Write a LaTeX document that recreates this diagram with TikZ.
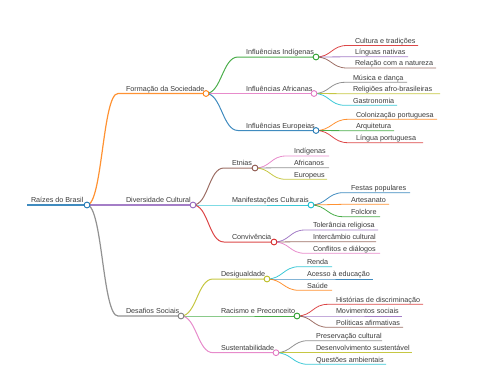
\documentclass[tikz,border=0pt]{standalone}
\usepackage{fontspec}
\setmainfont{Liberation Sans}
\definecolor{mmblue}{HTML}{1F77B4}
\definecolor{mmorange}{HTML}{FF7F0E}
\definecolor{mmgreen}{HTML}{2CA02C}
\definecolor{mmred}{HTML}{D62728}
\definecolor{mmpurple}{HTML}{9467BD}
\definecolor{mmbrown}{HTML}{8C564B}
\definecolor{mmpink}{HTML}{E377C2}
\definecolor{mmgrey}{HTML}{7F7F7F}
\definecolor{mmolive}{HTML}{BCBD22}
\definecolor{mmcyan}{HTML}{17BECF}
\definecolor{mmtextcol}{HTML}{3A3A3A}
\pgfdeclarelayer{bg}
\pgfsetlayers{bg,main}
\tikzset{
  mmtext/.style={inner sep=0pt, outer sep=0pt, text=mmtextcol, font=\fontsize{7.2}{8}\selectfont},
  mmdotstyle/.style={circle, fill=white, line width=0.9pt, minimum size=5.8pt, inner sep=0pt},
  mmline/.style={draw opacity=0.85},
}
% #1 name, #2 parent, #3 line start x, #4 line end x, #5 y, #6 colour, #7 width, #8 text
\newcommand{\mmitem}[8]{%
  \coordinate (#1-s) at (#3,#5);
  \coordinate (#1-e) at (#4,#5);
  \node[mmtext, anchor=base west] (#1-t) at (#3+8,#5-2.3) {#8};
  \begin{pgfonlayer}{bg}
    \draw[mmline, #6, line width=#7] (#2-e) to[out=0,in=180,distance=15.5pt] (#1-s) -- (#1-e);
  \end{pgfonlayer}
}
\newcommand{\mmdot}[2]{\node[mmdotstyle, draw=#2] (#1) at (#1-e) {};}
\begin{document}
\begin{tikzpicture}[x=1pt,y=-1pt]
\useasboundingbox (0,0) rectangle (480,384);
% root
\coordinate (R-s) at (27,205);
\coordinate (R-e) at (87,205);
\node[mmtext, anchor=base west] (R-t) at (31,202.7) {Raízes do Brasil};
\begin{pgfonlayer}{bg}
  \draw[mmline, mmblue, line width=1.5pt] (R-s) -- (R-e);
\end{pgfonlayer}
% level 1
\mmitem{F}{R}{118}{206}{93.5}{mmorange}{1.2pt}{Formação da Sociedade}
\mmitem{D}{R}{118}{193}{205}{mmpurple}{1.2pt}{Diversidade Cultural}
\mmitem{S}{R}{118}{181}{316}{mmgrey}{1.2pt}{Desafios Sociais}
% Formação
\mmitem{FI}{F}{238}{316}{57}{mmgreen}{1pt}{Influências Indígenas}
\mmitem{FA}{F}{238}{314}{93.5}{mmpink}{1pt}{Influências Africanas}
\mmitem{FE}{F}{238}{316}{130.5}{mmblue}{1pt}{Influências Europeias}
\mmitem{FI1}{FI}{347}{418}{45.5}{mmred}{0.8pt}{Cultura e tradições}
\mmitem{FI2}{FI}{347}{408}{56.8}{mmpurple}{0.8pt}{Línguas nativas}
\mmitem{FI3}{FI}{347}{436}{68}{mmbrown}{0.8pt}{Relação com a natureza}
\mmitem{FA1}{FA}{345}{407}{82.3}{mmgrey}{0.8pt}{Música e dança}
\mmitem{FA2}{FA}{345}{440}{93.7}{mmolive}{0.8pt}{Religiões afro-brasileiras}
\mmitem{FA3}{FA}{345}{397}{105.3}{mmcyan}{0.8pt}{Gastronomia}
\mmitem{FE1}{FE}{348}{437}{119.3}{mmorange}{0.8pt}{Colonização portuguesa}
\mmitem{FE2}{FE}{348}{394}{130.7}{mmgreen}{0.8pt}{Arquitetura}
\mmitem{FE3}{FE}{348}{423}{142.7}{mmred}{0.8pt}{Língua portuguesa}
% Diversidade
\mmitem{DE}{D}{224}{255}{168}{mmbrown}{1pt}{Etnias}
\mmitem{DM}{D}{224}{311}{205}{mmcyan}{1pt}{Manifestações Culturais}
\mmitem{DC}{D}{224}{274}{242}{mmred}{1pt}{Convivência}
\mmitem{DE1}{DE}{286}{329}{156}{mmpink}{0.8pt}{Indígenas}
\mmitem{DE2}{DE}{286}{329}{167.7}{mmgrey}{0.8pt}{Africanos}
\mmitem{DE3}{DE}{286}{327}{179.3}{mmolive}{0.8pt}{Europeus}
\mmitem{DM1}{DM}{343}{410}{192.7}{mmblue}{0.8pt}{Festas populares}
\mmitem{DM2}{DM}{343}{389}{204.3}{mmorange}{0.8pt}{Artesanato}
\mmitem{DM3}{DM}{343}{380}{216.7}{mmgreen}{0.8pt}{Folclore}
\mmitem{DC1}{DC}{305}{378}{230}{mmpurple}{0.8pt}{Tolerância religiosa}
\mmitem{DC2}{DC}{305}{376}{241.7}{mmbrown}{0.8pt}{Intercâmbio cultural}
\mmitem{DC3}{DC}{305}{380}{253.3}{mmpink}{0.8pt}{Conflitos e diálogos}
% Desafios
\mmitem{SD}{S}{213}{267}{279}{mmolive}{1pt}{Desigualdade}
\mmitem{SR}{S}{213}{297}{316}{mmgreen}{1pt}{Racismo e Preconceito}
\mmitem{SS}{S}{213}{276}{352.7}{mmpink}{1pt}{Sustentabilidade}
\mmitem{SD1}{SD}{299}{332}{266.7}{mmcyan}{0.8pt}{Renda}
\mmitem{SD2}{SD}{299}{373}{279}{mmblue}{0.8pt}{Acesso à educação}
\mmitem{SD3}{SD}{299}{332}{290.3}{mmorange}{0.8pt}{Saúde}
\mmitem{SR1}{SR}{328}{423}{304.3}{mmred}{0.8pt}{Histórias de discriminação}
\mmitem{SR2}{SR}{328}{402}{316}{mmpurple}{0.8pt}{Movimentos sociais}
\mmitem{SR3}{SR}{328}{403}{327.3}{mmbrown}{0.8pt}{Políticas afirmativas}
\mmitem{SS1}{SS}{308}{382}{340.7}{mmgrey}{0.8pt}{Preservação cultural}
\mmitem{SS2}{SS}{308}{412}{352.7}{mmolive}{0.8pt}{Desenvolvimento sustentável}
\mmitem{SS3}{SS}{308}{386}{364.3}{mmcyan}{0.8pt}{Questões ambientais}
% circles of the inner nodes
\mmdot{R}{mmblue}
\mmdot{F}{mmorange}
\mmdot{D}{mmpurple}
\mmdot{S}{mmgrey}
\mmdot{FI}{mmgreen}
\mmdot{FA}{mmpink}
\mmdot{FE}{mmblue}
\mmdot{DE}{mmbrown}
\mmdot{DM}{mmcyan}
\mmdot{DC}{mmred}
\mmdot{SD}{mmolive}
\mmdot{SR}{mmgreen}
\mmdot{SS}{mmpink}
\end{tikzpicture}
\end{document}
